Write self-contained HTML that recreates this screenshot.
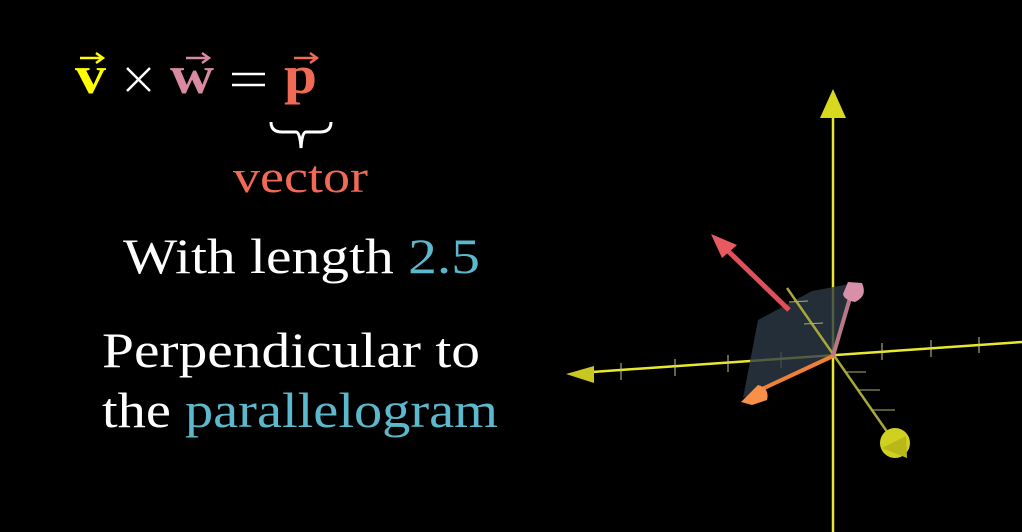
<!DOCTYPE html>
<html><head><meta charset="utf-8"><style>
html,body{margin:0;padding:0;background:#000;width:1022px;height:532px;overflow:hidden}
svg{display:block}
</style></head><body>
<svg width="1022" height="532" viewBox="0 0 1022 532" xmlns="http://www.w3.org/2000/svg">
<rect width="1022" height="532" fill="#000"/>
<g font-family="Liberation Serif, serif">
  <text x="75" y="93" font-size="54" font-weight="bold" fill="#ffff00" textLength="31" lengthAdjust="spacingAndGlyphs">v</text>
  <line x1="80" y1="58" x2="101" y2="58" stroke="#ffff00" stroke-width="2.5"/><path d="M96 53 L103 58 L96 63" fill="none" stroke="#ffff00" stroke-width="2.5"/>
  <path d="M127 68 L150 91 M150 68 L127 91" stroke="#fff" stroke-width="2.5"/>
  <text x="170" y="93" font-size="54" font-weight="bold" fill="#d88aa0" textLength="44" lengthAdjust="spacingAndGlyphs">w</text>
  <line x1="186" y1="58" x2="207" y2="58" stroke="#d88aa0" stroke-width="2.5"/><path d="M202 53 L209 58 L202 63" fill="none" stroke="#d88aa0" stroke-width="2.5"/>
  <path d="M232 74 L265 74 M232 85 L265 85" stroke="#fff" stroke-width="2.5"/>
  <text x="284" y="93" font-size="54" font-weight="bold" fill="#f06a55" textLength="33" lengthAdjust="spacingAndGlyphs">p</text>
  <line x1="294" y1="58" x2="315" y2="58" stroke="#f06a55" stroke-width="2.5"/><path d="M310 53 L317 58 L310 63" fill="none" stroke="#f06a55" stroke-width="2.5"/>
  <path d="M271 122 Q271 132 282 132 L296 132 Q300 132 301 148 Q302 132 306 132 L320 132 Q331 132 331 122" fill="none" stroke="#fff" stroke-width="3"/>
  <text x="233" y="192" font-size="46" fill="#f06a55" textLength="135" lengthAdjust="spacingAndGlyphs">vector</text>
</g>
<g font-family="Liberation Serif, serif" font-size="50" fill="#fff">
  <text x="123" y="273" textLength="357" lengthAdjust="spacingAndGlyphs">With length <tspan fill="#5cb8cc">2.5</tspan></text>
  <text x="102" y="367" textLength="378" lengthAdjust="spacingAndGlyphs">Perpendicular to</text>
  <text x="102" y="427" textLength="396" lengthAdjust="spacingAndGlyphs">the <tspan fill="#5cb8cc">parallelogram</tspan></text>
</g>
<g>
  <line x1="833" y1="116" x2="833" y2="532" stroke="#e8e830" stroke-width="2.5"/>
  <path d="M833 89 L846 118 L820 118 Z" fill="#d8d820"/>
  <line x1="592" y1="372" x2="1022" y2="342" stroke="#e8e830" stroke-width="2.5"/>
  <path d="M566 374 L594 366 L594 383 Z" fill="#c8c820"/>
  <g stroke="#c8c880" stroke-width="1">
    <line x1="621" y1="363" x2="621" y2="380"/><line x1="675" y1="359" x2="675" y2="376"/><line x1="728" y1="355" x2="728" y2="372"/><line x1="781" y1="352" x2="781" y2="368"/>
    <line x1="882" y1="343" x2="882" y2="360"/><line x1="931" y1="340" x2="931" y2="357"/><line x1="979" y1="337" x2="979" y2="353"/>
  </g>
  <polygon points="833,356 743,398 758,320 812,291 855,283" fill="#2c3a46" fill-opacity="0.8"/>
  <line x1="787" y1="288" x2="897" y2="446" stroke="#a8a838" stroke-width="2.5"/>
  <g stroke="#b0b070" stroke-width="1">
    <line x1="789" y1="302" x2="808" y2="301"/><line x1="804" y1="324" x2="823" y2="323"/><line x1="846" y1="372" x2="866" y2="372"/><line x1="858" y1="390" x2="880" y2="390"/><line x1="871" y1="410" x2="895" y2="410"/>
  </g>
  <circle cx="895" cy="443" r="15" fill="#d0d020"/>
  <path d="M882 448 L907 458 L906 436 Z" fill="#b8b818"/>
</g>
<g>
  <line x1="789" y1="310" x2="725" y2="248" stroke="#e05058" stroke-width="5"/>
  <path d="M711 234 L737 245 L722 258 Z" fill="#e85a60"/>
  <line x1="833" y1="356" x2="850" y2="298" stroke="#b87888" stroke-width="4"/>
  <path d="M848 282 L862 283 Q868 296 855 302 Q844 300 843 294 Z" fill="#d890a8"/>
  <line x1="833" y1="356" x2="760" y2="390" stroke="#f08038" stroke-width="4"/>
  <path d="M741 402 L758 385 Q770 388 767 400 L752 405 Z" fill="#f89048"/>
</g>
</svg>
</body></html>
